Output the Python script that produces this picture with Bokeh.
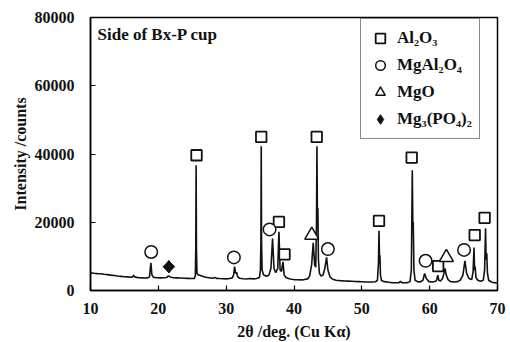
import math
from bokeh.plotting import figure
from bokeh.models import (Range1d, FixedTicker, Label, Legend, LegendItem,
                          PrintfTickFormatter)
from bokeh.embed import file_html
from bokeh.resources import INLINE

# ---- XRD pattern ----
two_theta = [
    10.0, 10.5, 11.0, 11.5, 12.0, 12.5, 13.0, 13.5, 14.0, 14.5, 15.0, 15.5,
    16.0, 16.2, 16.35, 16.5, 16.8, 17.2, 17.6, 18.0, 18.4, 18.7, 18.9, 19.05,
    19.3, 19.8, 20.3, 20.8, 21.2, 21.5, 21.8, 22.3, 22.8, 23.3, 23.8, 24.3,
    24.8, 25.3, 25.45, 25.52, 25.57, 25.62, 25.7, 25.85, 26.2, 26.6, 27.0,
    27.5, 28.0, 28.3, 28.6, 29.0, 29.5, 30.0, 30.5, 30.9, 31.1, 31.24, 31.4,
    31.55, 31.7, 32.0, 32.5, 33.0, 33.5, 34.0, 34.5, 34.9, 35.05, 35.12,
    35.17, 35.22, 35.3, 35.5, 35.9, 36.3, 36.6, 36.84, 37.05, 37.3, 37.6,
    37.78, 37.95, 38.15, 38.37, 38.55, 38.8, 39.2, 39.6, 40.0, 40.5, 41.0,
    41.5, 42.0, 42.3, 42.6, 42.83, 43.05, 43.2, 43.32, 43.38, 43.45, 43.52,
    43.6, 43.75, 44.0, 44.3, 44.55, 44.8, 45.0, 45.3, 45.7, 46.2, 46.8, 47.5,
    48.0, 48.5, 49.0, 49.5, 50.0, 50.5, 51.0, 51.5, 52.0, 52.3, 52.45, 52.53,
    52.6, 52.66, 52.75, 52.9, 53.3, 54.0, 54.5, 55.0, 55.5, 55.7, 55.9, 56.3,
    56.8, 57.1, 57.3, 57.44, 57.52, 57.58, 57.68, 57.85, 58.2, 58.6, 59.0,
    59.26, 59.5, 59.9, 60.4, 60.9, 61.05, 61.2, 61.35, 61.6, 61.9, 62.1,
    62.26, 62.45, 62.7, 63.1, 63.6, 64.1, 64.5, 64.9, 65.2, 65.45, 65.8,
    66.2, 66.4, 66.54, 66.62, 66.7, 66.82, 67.1, 67.5, 67.9, 68.1, 68.24,
    68.32, 68.42, 68.52, 68.7, 69.1, 69.5, 70.0,
]
intensity = [
    5200, 5050, 4950, 4900, 4750, 4650, 4500, 4400, 4250, 4150, 4050, 4000,
    3900, 4000, 4450, 4000, 3850, 3750, 3700, 3650, 3700, 4000, 8100, 4600,
    3850, 3750, 3700, 3750, 3800, 4300, 3900, 3750, 3700, 3650, 3600, 3550,
    3500, 3550, 4300, 12000, 36700, 12000, 5000, 4600, 4400, 4100, 3900,
    3750, 3600, 3800, 3550, 3500, 3450, 3400, 3500, 3700, 4600, 6970, 5000,
    5300, 4000, 3600, 3450, 3350, 3500, 3400, 3500, 3800, 6000, 14000,
    42260, 14000, 6000, 4600, 4200, 4500, 6500, 15260, 6500, 5200, 6500,
    17200, 6000, 5600, 8400, 4600, 3800, 3500, 3300, 3200, 3150, 3100,
    3200, 3400, 4200, 7500, 14000, 7500, 6800, 20000, 42300, 22000, 24100,
    9000, 5000, 4200, 4600, 6500, 9700, 6000, 4000, 3300, 3000, 2900, 2800,
    2750, 2700, 2650, 2600, 2550, 2500, 2500, 2500, 2550, 3000, 8000, 17500,
    10000, 10400, 4500, 2900, 2600, 2400, 2300, 2250, 2300, 2700, 2300, 2250,
    2300, 2600, 6000, 35240, 19000, 20100, 6000, 3000, 2600, 2500, 3000,
    5000, 3500, 2600, 2500, 2700, 3200, 4500, 3000, 2800, 3500, 5000,
    6500, 4500, 3200, 2600, 2500, 2600, 3000, 4500, 8700, 5000, 3500,
    3200, 5500, 12600, 6000, 7000, 3800, 3000, 2700, 3000, 6000, 18200,
    9000, 10900, 5000, 3000, 2500, 2300, 2200,
]

# ---- phase markers ----
al2o3_x = [25.63, 35.17, 43.35, 37.78, 38.6, 52.53, 57.35, 61.25, 66.64, 68.1]
al2o3_y = [39630, 45000, 45000, 20100, 10600, 20400, 38950, 7170, 16230, 21300]
spinel_x = [18.95, 31.14, 36.4, 45.0, 59.4, 65.07]
spinel_y = [11300, 9700, 17900, 12140, 8700, 11900]
mgo_x = [42.62, 62.46]
mgo_y = [16230, 9700]
mgpo_x = [21.55]
mgpo_y = [6970]

x_ticks = [10, 20, 30, 40, 50, 60, 70]
y_ticks = [0, 20000, 40000, 60000, 80000]

FONT = "Liberation Serif"
INK = "#111111"

p = figure(width=510, height=342, output_backend="svg", toolbar_location=None,
           x_range=Range1d(10, 70), y_range=Range1d(0, 80000),
           min_border_left=90, min_border_right=13, min_border_top=17,
           min_border_bottom=51)
p.background_fill_color = "white"
p.border_fill_color = "white"
p.outline_line_color = "black"
p.outline_line_width = 1.5
p.grid.visible = False

for ax in (p.xaxis[0], p.yaxis[0]):
    ax.axis_line_width = 1.5
    ax.axis_line_color = "black"
    ax.major_tick_in = 5
    ax.major_tick_out = 0
    ax.major_tick_line_width = 1.2
    ax.minor_tick_line_color = None
    ax.major_label_text_font = FONT
    ax.major_label_text_font_style = "bold"
    ax.major_label_text_font_size = "16px"
    ax.major_label_text_color = INK
    ax.axis_label_text_font = FONT
    ax.axis_label_text_font_style = "bold"
    ax.axis_label_text_font_size = "16px"
    ax.axis_label_text_color = INK

p.xaxis.ticker = FixedTicker(ticks=x_ticks)
p.yaxis.ticker = FixedTicker(ticks=y_ticks)
p.yaxis.formatter = PrintfTickFormatter(format="%d")
p.xaxis.axis_label = "2θ /deg. (Cu Kα)"
p.yaxis.axis_label = "Intensity /counts"
p.xaxis.major_label_standoff = 12
p.xaxis.axis_label_standoff = 6
p.yaxis.major_label_standoff = 16
p.yaxis.axis_label_standoff = 3

p.line(two_theta, intensity, line_color=INK, line_width=1.6)

r_sq = p.scatter(al2o3_x, al2o3_y, marker="square", size=10.5,
                 line_color=INK, line_width=1.8, fill_color="white")
r_ci = p.scatter(spinel_x, spinel_y, marker="circle", size=12.5,
                 line_color=INK, line_width=1.5, fill_color="white")
r_tr = p.scatter(mgo_x, mgo_y, marker="triangle", size=14,
                 line_color=INK, line_width=1.5, fill_color="white")
# diamond: a narrow diamond (also used by the legend) plus a rotated square
r_di_leg = p.scatter(mgpo_x, mgpo_y, marker="diamond", size=12.5,
                     line_color=INK, line_width=1.0, fill_color=INK)
r_di = p.scatter(mgpo_x, mgpo_y, marker="square", size=8.2, angle=math.pi / 4,
                 line_color=INK, line_width=1.0, fill_color=INK)

legend = Legend(items=[
    LegendItem(label="Al₂O₃", renderers=[r_sq]),
    LegendItem(label="MgAl₂O₄", renderers=[r_ci]),
    LegendItem(label="MgO", renderers=[r_tr]),
    LegendItem(label="Mg₃(PO₄)₂", renderers=[r_di_leg]),
], location=(270, 151))
legend.border_line_color = INK
legend.border_line_width = 1.3
legend.background_fill_color = "white"
legend.background_fill_alpha = 1.0
legend.label_text_font = FONT
legend.label_text_font_style = "bold"
legend.label_text_font_size = "17px"
legend.label_text_color = INK
legend.glyph_width = 24
legend.glyph_height = 24
legend.label_height = 24
legend.spacing = 3
legend.padding = 7
legend.margin = 0
legend.label_standoff = 5
p.add_layout(legend)

title = Label(x=7, y=266, x_units="screen", y_units="screen",
              text="Side of Bx-P cup", text_font=FONT, text_font_style="bold",
              text_font_size="17px", text_color=INK,
              text_baseline="top")
p.add_layout(title)

open("out.html", "w").write(file_html(p, INLINE))
